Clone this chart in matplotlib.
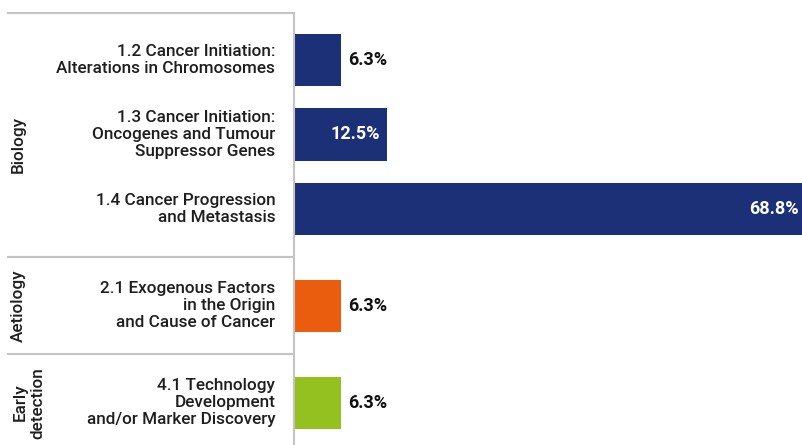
import matplotlib
matplotlib.use("Agg")
import matplotlib.pyplot as plt
import matplotlib.transforms as mtransforms

plt.rcParams["font.family"] = ["Roboto", "DejaVu Sans"]

labels = [
    "1.2 Cancer Initiation:\nAlterations in Chromosomes",
    "1.3 Cancer Initiation:\nOncogenes and Tumour\nSuppressor Genes",
    "1.4 Cancer Progression\nand Metastasis",
    "2.1 Exogenous Factors\nin the Origin\nand Cause of Cancer",
    "4.1 Technology\nDevelopment\nand/or Marker Discovery",
]
values = [6.3, 12.5, 68.8, 6.3, 6.3]
groups = ["Biology", "Biology", "Biology", "Aetiology", "Early\ndetection"]
colors = ["#1c3078", "#1c3078", "#1c3078", "#ea5c0e", "#94c11f"]

GRID = "#c4c4c4"
GAP = 0.3

# y positions with an extra gap between groups
ypos = []
y = 0.0
for i, g in enumerate(groups):
    if i > 0 and g != groups[i - 1]:
        y += GAP
    ypos.append(y)
    if i < len(groups) - 1:
        y += 1.0

fig = plt.figure(figsize=(8.03, 4.45), dpi=100)
ax = fig.add_axes([294 / 803, 0, 509 / 803, 1])
ax.barh(ypos, values, height=0.70, color=colors)
ax.set_xlim(0, 68.2)
ax.set_ylim(5.168, -0.805)
ax.axis("off")

for yp, v, lab in zip(ypos, values, labels):
    ax.text(-2.5, yp, lab, ha="right", va="center", fontsize=12.3,
            color="#1e1e1e", linespacing=1.17, fontweight="medium")
    if v < 10:
        ax.text(v + 1.0, yp, f"{v:.1f}%", ha="left", va="center",
                fontsize=13, fontweight="bold", color="#111111")
    else:
        end = min(v, 68.6)
        ax.text(end - 1.0, yp, f"{v:.1f}%", ha="right", va="center",
                fontsize=13, fontweight="bold", color="white")

# vertical axis line
ax.plot([0, 0], [-0.63, 5.168], color=GRID, lw=1.5, clip_on=False)

# group separators spanning into the label area
trans = mtransforms.blended_transform_factory(fig.transFigure, ax.transData)
seps = [-0.63]
for i in range(1, len(groups)):
    if groups[i] != groups[i - 1]:
        seps.append((ypos[i - 1] + ypos[i]) / 2)
for s in seps:
    ax.plot([8 / 803, 294 / 803], [s, s], color=GRID, lw=1.5,
            transform=trans, clip_on=False)

# group names, rotated
group_spots = [("Biology", 1.13, 18), ("Aetiology", ypos[3], 18),
               ("Early\ndetection", ypos[4], 29)]
for g, c, xp in group_spots:
    ax.text(xp / 803, c, g, transform=trans, rotation=90, ha="center",
            va="center", fontsize=12.3, color="#1e1e1e", fontweight="medium",
            linespacing=1.2)

fig.savefig("out.png", dpi=100)
